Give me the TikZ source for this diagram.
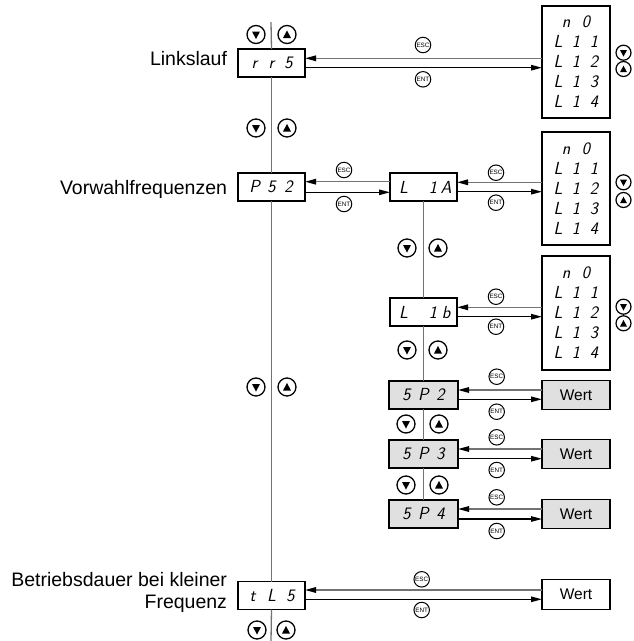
\documentclass[tikz,border=0pt]{standalone}
\usepackage{fontspec}
\setmainfont{Liberation Sans}
\usetikzlibrary{arrows.meta,calc}
\definecolor{linegray}{RGB}{115,115,115}
\definecolor{boxgray}{RGB}{224,224,224}
\newcommand\segf{\fontsize{17.5}{20}\selectfont\sffamily\itshape}
\newcommand\sgc[1]{\makebox[17pt]{#1}}
\newcommand\sgl[1]{\makebox[18pt]{#1}}
\newcommand\sgn[1]{\makebox[20pt]{#1}}
\begin{document}
\begin{tikzpicture}[x=1pt,y=-1pt,
  every node/.style={inner sep=0pt, outer sep=0pt},
  box/.style={draw, line width=1.4pt, fill=white, minimum width=67pt, minimum height=28pt, font=\segf},
  gbox/.style={box, fill=boxgray, minimum width=69pt},
  lst/.style={draw, line width=1.4pt, fill=white, minimum width=68pt, align=center, font=\segf},
  wert/.style={draw, line width=1.4pt, minimum width=68pt, minimum height=28.5pt, font=\fontsize{15.5}{18}\selectfont},
  lbl/.style={font=\fontsize{19.5}{22.3}\selectfont},
  vline/.style={draw=linegray, line width=1.3pt},
  escl/.style={draw=linegray, line width=1.5pt, -{Triangle[length=11pt,width=5.5pt,color=black]}},
  entl/.style={draw=black, line width=1.2pt, -{Triangle[length=11pt,width=5.5pt]}},
  kb/.style={circle, draw, line width=1.3pt, minimum size=18pt, fill=white},
  kdown/.style={kb, path picture={\fill[black] ([shift={(-4pt,3pt)}]path picture bounding box.center) -- ++(8pt,0pt) -- ++(-4pt,-7.5pt) -- cycle;}},
  kup/.style={kb, path picture={\fill[black] ([shift={(-4pt,-3.5pt)}]path picture bounding box.center) -- ++(8pt,0pt) -- ++(-4pt,7.5pt) -- cycle;}},
  rb/.style={circle, draw, line width=1.2pt, minimum size=15pt, fill=white},
  rdown/.style={rb, path picture={\fill[black] ([shift={(-3.5pt,2.7pt)}]path picture bounding box.center) -- ++(7pt,0pt) -- ++(-3.5pt,-6.5pt) -- cycle;}},
  rup/.style={rb, path picture={\fill[black] ([shift={(-3.5pt,-3.2pt)}]path picture bounding box.center) -- ++(7pt,0pt) -- ++(-3.5pt,6.5pt) -- cycle;}},
  sk/.style={circle, draw, line width=1pt, minimum size=15.5pt, fill=white, font=\fontsize{6.3}{7}\selectfont}
]
\path[use as bounding box] (0,0) rectangle (633,641);

% main column
\coordinate (mtop) at (271,22);
\coordinate (mbot) at (271,641);
\node[box] (rrs) at (271.5,63) {\sgc{r}\sgc{r}\sgc{5}};
\node[box] (ps2) at (271.5,187) {\sgc{P}\sgc{5}\sgc{2}};
\node[box] (tls) at (271.5,595.5) {\makebox[19pt]{t}\makebox[19pt]{L}\makebox[19pt]{5}};

\draw[vline] (mtop) -- (rrs.north);
\draw[vline] (rrs.south) -- (ps2.north);
\draw[vline] (ps2.south) -- (tls.north);
\draw[vline] (tls.south) -- (mbot);

\node[lbl, anchor=base east] (t1) at (227,65) {Linkslauf};
\node[lbl, anchor=base east] (t2) at (227,194.5) {Vorwahlfrequenzen};
\node[lbl, anchor=east, align=right] (t3) at (227,592.5) {Betriebsdauer bei kleiner\\Frequenz};

% sub column
\node[box] (l1a) at (423.5,187) {\makebox[18pt]{L}\hspace{14pt}\makebox[13pt]{1}\makebox[13pt]{A}};
\node[box] (l1b) at (423.5,312) {\makebox[18pt]{L}\hspace{14pt}\makebox[13pt]{1}\makebox[13pt]{b}};
\node[gbox] (sp2) at (423.5,395) {\sgc{5}\sgc{P}\sgc{2}};
\node[gbox] (sp3) at (423.5,454) {\sgc{5}\sgc{P}\sgc{3}};
\node[gbox] (sp4) at (423.5,514) {\sgc{5}\sgc{P}\sgc{4}};
\draw[vline] (l1a.south) -- (l1b.north);
\draw[vline] (l1b.south) -- (sp2.north);
\draw[vline] (sp2.south) -- (sp3.north);
\draw[vline] (sp3.south) -- (sp4.north);

% lists
\node[lst, minimum height=112pt] (lst1) at (576,62) {\sgn{n}\sgn{0}\\\sgl{L}\sgl{1}\sgl{1}\\\sgl{L}\sgl{1}\sgl{2}\\\sgl{L}\sgl{1}\sgl{3}\\\sgl{L}\sgl{1}\sgl{4}};
\node[lst, minimum height=113pt] (lst2) at (576,188.3) {\sgn{n}\sgn{0}\\\sgl{L}\sgl{1}\sgl{1}\\\sgl{L}\sgl{1}\sgl{2}\\\sgl{L}\sgl{1}\sgl{3}\\\sgl{L}\sgl{1}\sgl{4}};
\node[lst, minimum height=114pt] (lst3) at (576,313) {\sgn{n}\sgn{0}\\\sgl{L}\sgl{1}\sgl{1}\\\sgl{L}\sgl{1}\sgl{2}\\\sgl{L}\sgl{1}\sgl{3}\\\sgl{L}\sgl{1}\sgl{4}};

% Wert boxes
\node[wert, fill=boxgray] (w2) at (576,395) {Wert};
\node[wert, fill=boxgray] (w3) at (576,454) {Wert};
\node[wert, fill=boxgray] (w4) at (576,514) {Wert};
\node[wert, fill=white, minimum height=30pt] (w5) at (576,594.5) {Wert};

% ESC / ENT connectors
\draw[escl] ([yshift=4.7pt]rrs.east -| lst1.west) -- ([yshift=4.7pt]rrs.east);
\draw[entl] ([yshift=-4.7pt]rrs.east) -- ([yshift=-4.7pt]rrs.east -| lst1.west);
\draw[escl] ([yshift=5.3pt]ps2.east -| l1a.west) -- ([yshift=5.3pt]ps2.east);
\draw[entl] ([yshift=-5.3pt]ps2.east) -- ([yshift=-5.3pt]ps2.east -| l1a.west);
\draw[escl] ([yshift=4.7pt]l1a.east -| lst2.west) -- ([yshift=4.7pt]l1a.east);
\draw[entl] ([yshift=-4.7pt]l1a.east) -- ([yshift=-4.7pt]l1a.east -| lst2.west);
\draw[escl] ([yshift=4.7pt]l1b.east -| lst3.west) -- ([yshift=4.7pt]l1b.east);
\draw[entl] ([yshift=-4.7pt]l1b.east) -- ([yshift=-4.7pt]l1b.east -| lst3.west);
\draw[escl] ([yshift=5pt]sp2.east -| w2.west) -- ([yshift=5pt]sp2.east);
\draw[entl] ([yshift=-4.3pt]sp2.east) -- ([yshift=-4.3pt]sp2.east -| w2.west);
\draw[escl] ([yshift=5pt]sp3.east -| w3.west) -- ([yshift=5pt]sp3.east);
\draw[entl] ([yshift=-4.7pt]sp3.east) -- ([yshift=-4.7pt]sp3.east -| w3.west);
\draw[escl] ([yshift=5pt]sp4.east -| w4.west) -- ([yshift=5pt]sp4.east);
\draw[entl] ([yshift=-5pt]sp4.east) -- ([yshift=-5pt]sp4.east -| w4.west);
\draw[escl] ([yshift=5.5pt]tls.east -| w5.west) -- ([yshift=5.5pt]tls.east);
\draw[entl] ([yshift=-3.8pt]tls.east) -- ([yshift=-3.8pt]tls.east -| w5.west);

% ESC / ENT keys
\node[sk] (esc1) at (423,45) {ESC};
\node[sk] (ent1) at (423,79.3) {ENT};
\node[sk] (esc2) at (344,170) {ESC};
\node[sk] (ent2) at (344,204) {ENT};
\node[sk] (esc3) at (496,172.7) {ESC};
\node[sk] (ent3) at (496,202.7) {ENT};
\node[sk] (esc4) at (496,296.7) {ESC};
\node[sk] (ent4) at (496,326.7) {ENT};
\node[sk] (esc5) at (496.7,376.7) {ESC};
\node[sk] (ent5) at (496.7,411.7) {ENT};
\node[sk] (esc6) at (496.7,437.3) {ESC};
\node[sk] (ent6) at (496.7,470) {ENT};
\node[sk] (esc7) at (496.7,497.3) {ESC};
\node[sk] (ent7) at (496.7,531) {ENT};
\node[sk] (esc8) at (421.7,579.3) {ESC};
\node[sk] (ent8) at (421.7,610) {ENT};

% arrow keys, main column
\node[kdown] (d1) at (256,34.5) {};
\node[kup] (u1) at (287,34.5) {};
\node[kdown] (d2) at (256,128) {};
\node[kup] (u2) at (287,128) {};
\node[kdown] (d3) at (256,387) {};
\node[kup] (u3) at (287,387) {};
\node[kdown] (d4) at (257,630) {};
\node[kup] (u4) at (286,630) {};
% arrow keys, sub column
\node[kdown] (d5) at (407,248) {};
\node[kup] (u5) at (438,248) {};
\node[kdown] (d6) at (407,350) {};
\node[kup] (u6) at (438,350) {};
\node[kdown] (d7) at (406,424) {};
\node[kup] (u7) at (439,424) {};
\node[kdown] (d8) at (406,485) {};
\node[kup] (u8) at (439,485) {};
% arrow keys beside lists
\node[rdown] (r1) at (623.5,52.7) {};
\node[rup] (s1) at (623.5,69) {};
\node[rdown] (r2) at (623.5,182.3) {};
\node[rup] (s2) at (623.5,200) {};
\node[rdown] (r3) at (623.5,306.7) {};
\node[rup] (s3) at (623.5,323.3) {};
\end{tikzpicture}
\end{document}
